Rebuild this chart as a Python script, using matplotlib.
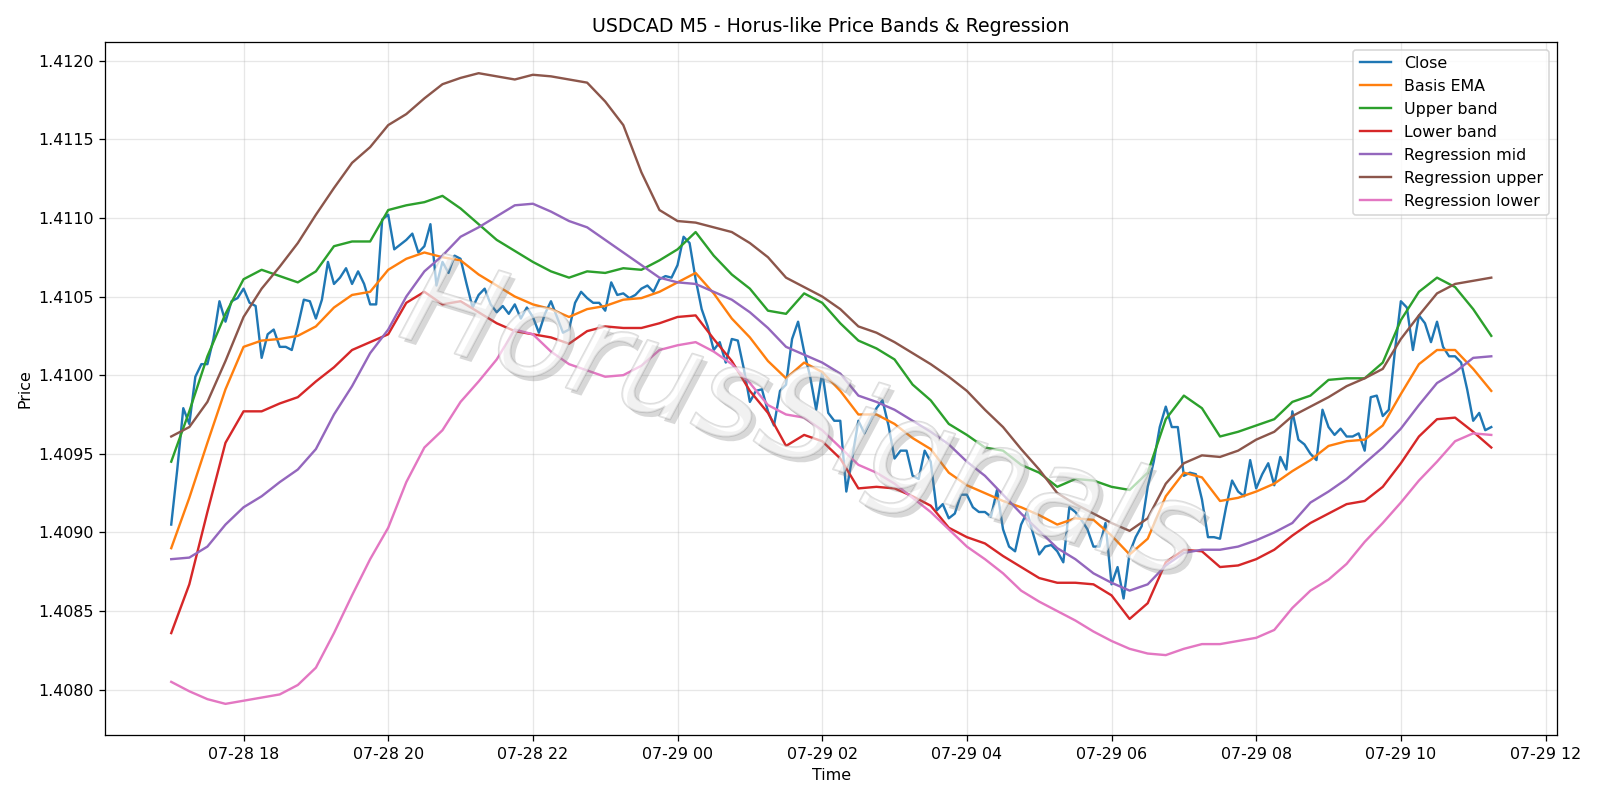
import pandas as pd
import matplotlib
matplotlib.use('Agg')
from matplotlib import pyplot as plt
import matplotlib.patheffects as pe

# M5 bars, 07-28 17:00 -> 07-29 11:15
times = pd.date_range('2025-07-28 17:00', periods=220, freq='5min')
# the smoother lines were read every 3rd bar (15 min)
band_times = times[::3]

close = [
    1.40905, 1.40940, 1.40979, 1.40969, 1.40999, 1.41007, 1.41007, 1.41023, 1.41047, 1.41034,
    1.41047, 1.41049, 1.41055, 1.41046, 1.41044, 1.41011, 1.41026, 1.41029, 1.41018, 1.41018,
    1.41016, 1.41031, 1.41048, 1.41047, 1.41036, 1.41048, 1.41072, 1.41058, 1.41062, 1.41068,
    1.41058, 1.41066, 1.41058, 1.41045, 1.41045, 1.41099, 1.41102, 1.41080, 1.41083, 1.41086,
    1.41090, 1.41078, 1.41082, 1.41096, 1.41057, 1.41072, 1.41065, 1.41076, 1.41074, 1.41058,
    1.41043, 1.41051, 1.41055, 1.41045, 1.41040, 1.41044, 1.41039, 1.41045, 1.41036, 1.41043,
    1.41037, 1.41027, 1.41039, 1.41047, 1.41037, 1.41027, 1.41029, 1.41046, 1.41053, 1.41049,
    1.41046, 1.41046, 1.41041, 1.41059, 1.41051, 1.41052, 1.41049, 1.41051, 1.41055, 1.41057,
    1.41053, 1.41061, 1.41063, 1.41062, 1.41070, 1.41088, 1.41084, 1.41061, 1.41042, 1.41031,
    1.41016, 1.41021, 1.41008, 1.41023, 1.41022, 1.41004, 1.40983, 1.40990, 1.40991, 1.40977,
    1.40968, 1.40990, 1.40994, 1.41023, 1.41034, 1.41015, 1.40999, 1.40978, 1.41002, 1.40976,
    1.40971, 1.40971, 1.40926, 1.40948, 1.40971, 1.40963, 1.40971, 1.40979, 1.40984, 1.40968,
    1.40947, 1.40952, 1.40952, 1.40936, 1.40934, 1.40952, 1.40945, 1.40914, 1.40918, 1.40909,
    1.40912, 1.40924, 1.40924, 1.40916, 1.40913, 1.40913, 1.40910, 1.40927, 1.40902, 1.40891,
    1.40888, 1.40905, 1.40913, 1.40899, 1.40886, 1.40891, 1.40892, 1.40888, 1.40881, 1.40916,
    1.40913, 1.40908, 1.40902, 1.40891, 1.40891, 1.40906, 1.40867, 1.40878, 1.40858, 1.40887,
    1.40897, 1.40904, 1.40929, 1.40945, 1.40967, 1.40980, 1.40967, 1.40967, 1.40936, 1.40938,
    1.40937, 1.40921, 1.40897, 1.40897, 1.40896, 1.40916, 1.40933, 1.40926, 1.40923, 1.40946,
    1.40928, 1.40937, 1.40944, 1.40930, 1.40948, 1.40940, 1.40977, 1.40959, 1.40956, 1.40950,
    1.40946, 1.40978, 1.40967, 1.40962, 1.40966, 1.40961, 1.40961, 1.40963, 1.40952, 1.40986,
    1.40987, 1.40974, 1.40978, 1.41015, 1.41047, 1.41043, 1.41016, 1.41038, 1.41033, 1.41021,
    1.41034, 1.41018, 1.41012, 1.41012, 1.41008, 1.40991, 1.40971, 1.40976, 1.40965, 1.40967,
]

basis_ema = [
    1.40890, 1.40922, 1.40957, 1.40991, 1.41018, 1.41022, 1.41023, 1.41025, 1.41031, 1.41043,
    1.41051, 1.41053, 1.41067, 1.41074, 1.41078, 1.41075, 1.41073, 1.41064, 1.41057, 1.41050,
    1.41045, 1.41042, 1.41037, 1.41042, 1.41044, 1.41048, 1.41049, 1.41053, 1.41059, 1.41065,
    1.41052, 1.41036, 1.41024, 1.41009, 1.40998, 1.41008, 1.41002, 1.40990, 1.40975, 1.40975,
    1.40969, 1.40960, 1.40953, 1.40938, 1.40930, 1.40925, 1.40920, 1.40916, 1.40911, 1.40905,
    1.40909, 1.40908, 1.40898, 1.40886, 1.40896, 1.40923, 1.40938, 1.40935, 1.40920, 1.40922,
    1.40926, 1.40931, 1.40939, 1.40946, 1.40955, 1.40958, 1.40959, 1.40968, 1.40988, 1.41007,
    1.41016, 1.41016, 1.41004, 1.40990,
]

upper_band = [
    1.40945, 1.40977, 1.41012, 1.41039, 1.41061, 1.41067, 1.41063, 1.41059, 1.41066, 1.41082,
    1.41085, 1.41085, 1.41105, 1.41108, 1.41110, 1.41114, 1.41106, 1.41096, 1.41086, 1.41079,
    1.41072, 1.41066, 1.41062, 1.41066, 1.41065, 1.41068, 1.41067, 1.41073, 1.41080, 1.41091,
    1.41076, 1.41064, 1.41055, 1.41041, 1.41039, 1.41052, 1.41046, 1.41033, 1.41022, 1.41017,
    1.41010, 1.40994, 1.40984, 1.40969, 1.40962, 1.40954, 1.40952, 1.40943, 1.40938, 1.40929,
    1.40934, 1.40933, 1.40929, 1.40927, 1.40938, 1.40972, 1.40987, 1.40979, 1.40961, 1.40964,
    1.40968, 1.40972, 1.40983, 1.40987, 1.40997, 1.40998, 1.40998, 1.41008, 1.41035, 1.41053,
    1.41062, 1.41056, 1.41042, 1.41025,
]

lower_band = [
    1.40836, 1.40867, 1.40913, 1.40957, 1.40977, 1.40977, 1.40982, 1.40986, 1.40996, 1.41005,
    1.41016, 1.41021, 1.41026, 1.41046, 1.41053, 1.41045, 1.41047, 1.41040, 1.41033, 1.41028,
    1.41026, 1.41024, 1.41020, 1.41028, 1.41031, 1.41030, 1.41030, 1.41033, 1.41037, 1.41038,
    1.41023, 1.41009, 1.40990, 1.40976, 1.40955, 1.40962, 1.40958, 1.40947, 1.40928, 1.40929,
    1.40928, 1.40923, 1.40917, 1.40903, 1.40897, 1.40893, 1.40885, 1.40878, 1.40871, 1.40868,
    1.40868, 1.40867, 1.40860, 1.40845, 1.40855, 1.40881, 1.40889, 1.40888, 1.40878, 1.40879,
    1.40883, 1.40889, 1.40898, 1.40906, 1.40912, 1.40918, 1.40920, 1.40929, 1.40944, 1.40961,
    1.40972, 1.40973, 1.40964, 1.40954,
]

reg_mid = [
    1.40883, 1.40884, 1.40891, 1.40905, 1.40916, 1.40923, 1.40932, 1.40940, 1.40953, 1.40975,
    1.40993, 1.41014, 1.41029, 1.41050, 1.41066, 1.41076, 1.41088, 1.41094, 1.41101, 1.41108,
    1.41109, 1.41104, 1.41098, 1.41094, 1.41086, 1.41078, 1.41070, 1.41062, 1.41059, 1.41058,
    1.41053, 1.41048, 1.41040, 1.41030, 1.41018, 1.41013, 1.41008, 1.41001, 1.40987, 1.40983,
    1.40978, 1.40971, 1.40964, 1.40956, 1.40945, 1.40936, 1.40924, 1.40912, 1.40901, 1.40890,
    1.40883, 1.40874, 1.40868, 1.40863, 1.40867, 1.40879, 1.40887, 1.40889, 1.40889, 1.40891,
    1.40895, 1.40900, 1.40906, 1.40919, 1.40926, 1.40934, 1.40944, 1.40954, 1.40966, 1.40981,
    1.40995, 1.41002, 1.41011, 1.41012,
]

reg_upper = [
    1.40961, 1.40967, 1.40983, 1.41009, 1.41037, 1.41055, 1.41069, 1.41084, 1.41102, 1.41119,
    1.41135, 1.41145, 1.41159, 1.41166, 1.41176, 1.41185, 1.41189, 1.41192, 1.41190, 1.41188,
    1.41191, 1.41190, 1.41188, 1.41186, 1.41174, 1.41159, 1.41129, 1.41105, 1.41098, 1.41097,
    1.41094, 1.41091, 1.41084, 1.41075, 1.41062, 1.41056, 1.41050, 1.41042, 1.41031, 1.41027,
    1.41021, 1.41014, 1.41007, 1.40999, 1.40990, 1.40978, 1.40967, 1.40953, 1.40940, 1.40925,
    1.40918, 1.40912, 1.40906, 1.40901, 1.40909, 1.40931, 1.40944, 1.40949, 1.40948, 1.40952,
    1.40959, 1.40964, 1.40974, 1.40980, 1.40986, 1.40993, 1.40998, 1.41004, 1.41023, 1.41038,
    1.41052, 1.41058, 1.41060, 1.41062,
]

reg_lower = [
    1.40805, 1.40799, 1.40794, 1.40791, 1.40793, 1.40795, 1.40797, 1.40803, 1.40814, 1.40836,
    1.40860, 1.40883, 1.40903, 1.40932, 1.40954, 1.40965, 1.40983, 1.40996, 1.41010, 1.41029,
    1.41026, 1.41015, 1.41007, 1.41003, 1.40999, 1.41000, 1.41006, 1.41016, 1.41019, 1.41021,
    1.41015, 1.41007, 1.40995, 1.40981, 1.40975, 1.40973, 1.40965, 1.40954, 1.40943, 1.40938,
    1.40931, 1.40922, 1.40913, 1.40902, 1.40891, 1.40883, 1.40874, 1.40863, 1.40856, 1.40850,
    1.40844, 1.40837, 1.40831, 1.40826, 1.40823, 1.40822, 1.40826, 1.40829, 1.40829, 1.40831,
    1.40833, 1.40838, 1.40852, 1.40863, 1.40870, 1.40880, 1.40894, 1.40906, 1.40919, 1.40933,
    1.40945, 1.40958, 1.40963, 1.40962,
]

# 14x7 in saved at ~114 dpi -> 1600x800
fig, ax = plt.subplots(figsize=(14, 7), dpi=1600 / 14)

ax.plot(times, close, label='Close', lw=1.5)
ax.plot(band_times, basis_ema, label='Basis EMA', lw=1.5)
ax.plot(band_times, upper_band, label='Upper band', lw=1.5)
ax.plot(band_times, lower_band, label='Lower band', lw=1.5)
ax.plot(band_times, reg_mid, label='Regression mid', lw=1.5)
ax.plot(band_times, reg_upper, label='Regression upper', lw=1.5)
ax.plot(band_times, reg_lower, label='Regression lower', lw=1.5)

# faint watermark on top of the lines
wm = ax.text(0.48, 0.45, 'HorusSignals', transform=ax.transAxes,
             fontsize=80, style='italic', color='white', alpha=0.3,
             rotation=-17, ha='center', va='center', zorder=5)
wm.set_path_effects([pe.withSimplePatchShadow(offset=(3, -3), shadow_rgbFace='gray', alpha=0.3),
                     pe.Stroke(linewidth=1.2, foreground='#8c8c8c'),
                     pe.Normal()])

ax.set_title('USDCAD M5 - Horus-like Price Bands & Regression')
ax.set_xlabel('Time')
ax.set_ylabel('Price')
ax.grid(True, alpha=0.3)
ax.legend(loc='upper right')

plt.tight_layout()
plt.savefig('out.png')
